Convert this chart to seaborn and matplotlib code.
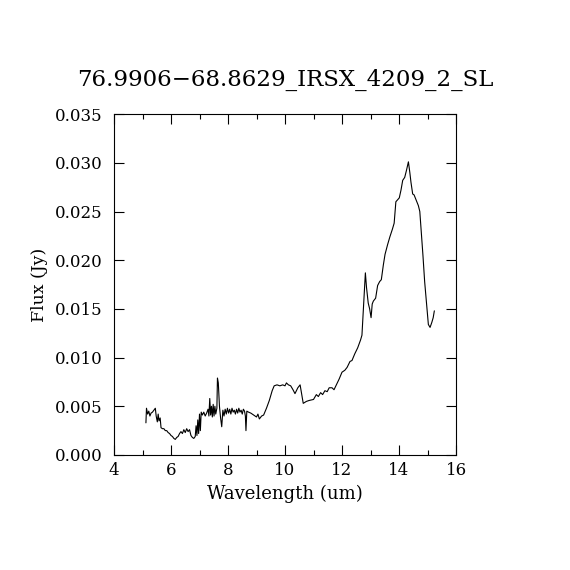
import matplotlib
matplotlib.use("Agg")
import matplotlib.pyplot as plt
from matplotlib.ticker import MultipleLocator, FormatStrFormatter
import seaborn as sns
import pandas as pd

title = "76.9906\u221268.8629_IRSX_4209_2_SL"
xlabel = "Wavelength (um)"
ylabel = "Flux (Jy)"

wavelength = [
    5.12, 5.14, 5.18, 5.22, 5.26, 5.30, 5.35, 5.40, 5.45, 5.48, 5.52, 5.55, 5.58, 5.62, 5.65,
    5.70, 5.75, 5.80, 5.85, 5.90, 5.95, 6.00, 6.05, 6.10, 6.15, 6.20, 6.25, 6.30, 6.35, 6.40,
    6.45, 6.50, 6.55, 6.60, 6.65, 6.70, 6.75, 6.80, 6.85, 6.88, 6.91, 6.94, 6.97, 7.00, 7.03,
    7.06, 7.10, 7.15, 7.20, 7.25, 7.30, 7.33, 7.36, 7.39, 7.42, 7.45, 7.48, 7.51, 7.54, 7.57,
    7.61, 7.63, 7.66, 7.70, 7.74, 7.78, 7.82, 7.86, 7.90, 7.94, 7.98, 8.02, 8.06, 8.10, 8.14,
    8.18, 8.22, 8.26, 8.30, 8.34, 8.38, 8.42, 8.46, 8.50, 8.54, 8.58, 8.61, 8.63, 8.66, 8.72,
    8.80, 8.90, 9.00, 9.05, 9.10, 9.18, 9.25, 9.35, 9.45, 9.55, 9.62, 9.72, 9.82, 9.92, 10.00,
    10.05, 10.12, 10.20, 10.28, 10.35, 10.45, 10.53, 10.60, 10.64, 10.75, 10.85, 11.00, 11.10, 11.17, 11.25,
    11.32, 11.40, 11.48, 11.55, 11.65, 11.72, 11.80, 11.90, 12.00, 12.10, 12.18, 12.28, 12.35, 12.45, 12.55,
    12.65, 12.70, 12.75, 12.82, 12.86, 12.92, 12.97, 13.02, 13.06, 13.10, 13.18, 13.25, 13.32, 13.38, 13.45,
    13.51, 13.60, 13.68, 13.77, 13.83, 13.89, 13.95, 14.01, 14.07, 14.13, 14.20, 14.26, 14.33, 14.38, 14.42,
    14.48, 14.53, 14.60, 14.68, 14.73, 14.78, 14.84, 14.90, 14.97, 15.03, 15.09, 15.15, 15.20, 15.24,
]

flux = [
    0.0033, 0.0048, 0.0042, 0.0045, 0.0040, 0.0043, 0.0044, 0.0046, 0.0048, 0.0040, 0.0034, 0.0042, 0.0035, 0.0038, 0.0028,
    0.0027, 0.0027, 0.0025, 0.0025, 0.0023, 0.0022, 0.0020, 0.0019, 0.0017, 0.0016, 0.0018, 0.0019, 0.0022, 0.0024, 0.0022,
    0.0026, 0.0023, 0.0027, 0.0024, 0.0026, 0.0020, 0.0018, 0.0017, 0.0019, 0.0030, 0.0020, 0.0036, 0.0022, 0.0042, 0.0025,
    0.0044, 0.0041, 0.0044, 0.0040, 0.0043, 0.0047, 0.0040, 0.0058, 0.0041, 0.0050, 0.0039, 0.0052, 0.0040, 0.0050, 0.0042,
    0.0048, 0.0079, 0.0074, 0.0050, 0.0038, 0.0029, 0.0046, 0.0040, 0.0047, 0.0042, 0.0048, 0.0043, 0.0047, 0.0042, 0.0048,
    0.0044, 0.0046, 0.0042, 0.0047, 0.0043, 0.0048, 0.0044, 0.0046, 0.0042, 0.0047, 0.0045, 0.0040, 0.0025, 0.0045, 0.0044,
    0.0043, 0.0041, 0.0039, 0.0042, 0.0037, 0.0040, 0.0041, 0.0048, 0.0056, 0.0066, 0.0071, 0.0072, 0.0071, 0.0072, 0.0071,
    0.0074, 0.0072, 0.0071, 0.0067, 0.0063, 0.0069, 0.0072, 0.0060, 0.0053, 0.0055, 0.0056, 0.0057, 0.0062, 0.0060, 0.0064,
    0.0062, 0.0066, 0.0065, 0.0069, 0.0069, 0.0067, 0.0072, 0.0078, 0.0085, 0.0087, 0.0090, 0.0096, 0.0097, 0.0104, 0.0110,
    0.0118, 0.0123, 0.0150, 0.0187, 0.0172, 0.0156, 0.0150, 0.0141, 0.0155, 0.0158, 0.0161, 0.0174, 0.0178, 0.0180, 0.0195,
    0.0206, 0.0216, 0.0224, 0.0232, 0.0238, 0.0260, 0.0262, 0.0264, 0.0272, 0.0282, 0.0285, 0.0292, 0.0301, 0.0290, 0.0280,
    0.0268, 0.0267, 0.0262, 0.0256, 0.0250, 0.0230, 0.0205, 0.0178, 0.0155, 0.0134, 0.0131, 0.0136, 0.0141, 0.0148,
]

df = pd.DataFrame({"wavelength": wavelength, "flux": flux})

sns.set_style("ticks")
plt.rcParams["font.family"] = ["DejaVu Serif", "DejaVu Sans"]
plt.rcParams["text.color"] = "black"
plt.rcParams["axes.labelcolor"] = "black"

fig = plt.figure(figsize=(5.7, 5.7), dpi=100)
ax = fig.add_axes([0.2, 0.2018, 0.6, 0.598])
sns.lineplot(data=df, x="wavelength", y="flux", sort=False, estimator=None,
             color="black", linewidth=0.8, ax=ax)

ax.set_xlim(4, 16)
ax.set_ylim(0, 0.035)
ax.xaxis.set_major_locator(MultipleLocator(2))
ax.xaxis.set_minor_locator(MultipleLocator(1))
ax.yaxis.set_major_locator(MultipleLocator(0.005))
ax.yaxis.set_major_formatter(FormatStrFormatter("%.3f"))
ax.tick_params(which="both", direction="in", top=True, right=True, colors="black",
               labelcolor="black", labelsize=12, width=0.8)
ax.tick_params(which="major", length=7)
ax.tick_params(which="minor", length=3.5)
ax.tick_params(axis="y", which="major", pad=8)
ax.tick_params(axis="x", which="major", pad=5)
for s in ax.spines.values():
    s.set_visible(True)
    s.set_color("black")
    s.set_linewidth(0.8)

ax.set_xlabel(xlabel, fontsize=13, labelpad=4, color="black")
ax.set_ylabel(ylabel, fontsize=12.5, labelpad=5, color="black")
ax.set_title(title, fontsize=16.5, pad=20, color="black")

fig.savefig("out.png", dpi=100, facecolor="white")
